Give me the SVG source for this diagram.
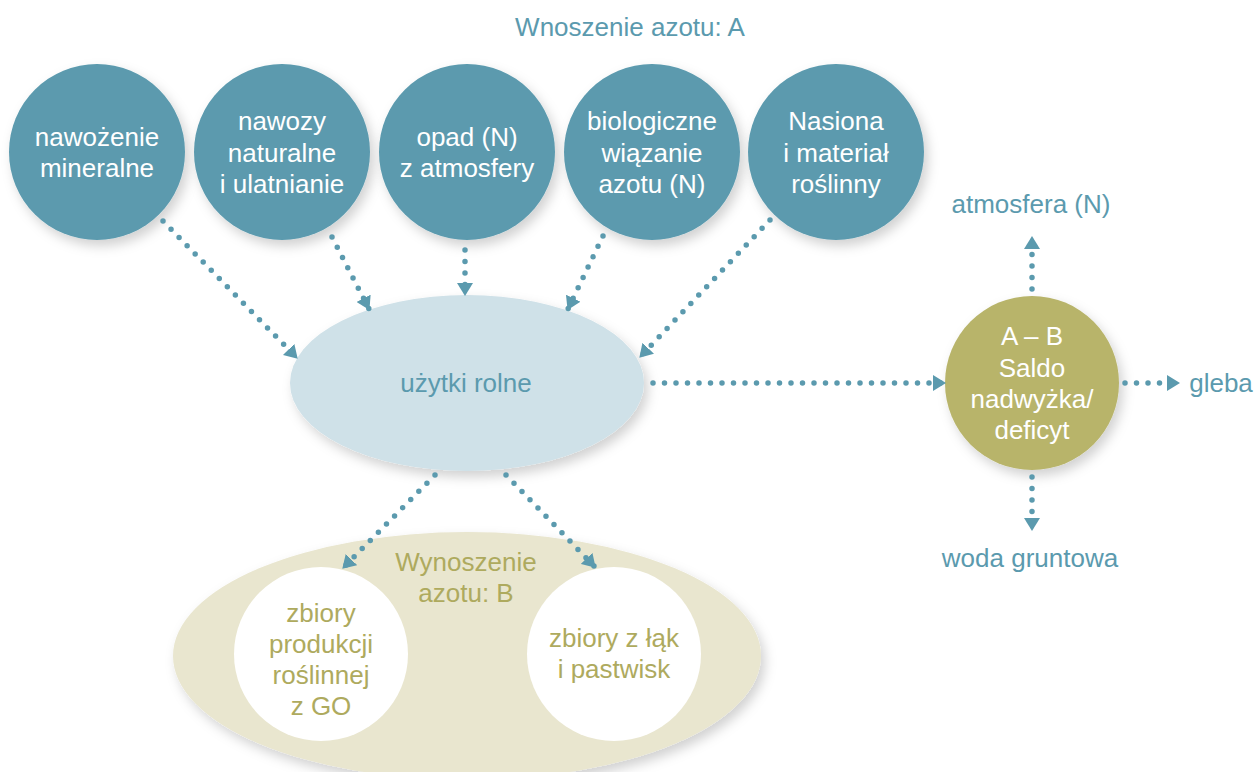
<svg xmlns="http://www.w3.org/2000/svg" width="1256" height="772" viewBox="0 0 1256 772">
<defs>
<filter id="sh" x="-20%" y="-20%" width="150%" height="150%">
<feDropShadow dx="4" dy="6" stdDeviation="6" flood-color="#000" flood-opacity="0.18"/>
</filter>
<marker id="ah" viewBox="0 0 13 16" refX="12" refY="8" markerWidth="13" markerHeight="16" markerUnits="userSpaceOnUse" orient="auto">
<path d="M0,0 L13,8 L0,16 z" fill="#5b9aae"/>
</marker>
<style>
.tn{fill:#5b9aae;filter:url(#sh)}
.t{font-family:"Liberation Sans",Arial,sans-serif;font-size:26px;text-anchor:middle}
.w{fill:#ffffff}
.b{fill:#5b9aae}
.o{fill:#aeaa5e}
.c{fill:none;stroke:#5b9aae;stroke-width:5.5;stroke-linecap:round;stroke-dasharray:0 11.5;marker-end:url(#ah)}
</style>
</defs>
<rect width="1256" height="772" fill="#ffffff"/>
<text class="t b" x="630" y="36">Wnoszenie azotu: A</text>

<g id="bottom-group">
<ellipse cx="467" cy="656" rx="294" ry="124" fill="#e9e6cf" filter="url(#sh)"/>
<text class="t o" x="466" y="571">Wynoszenie</text>
<text class="t o" x="466" y="602">azotu: B</text>
</g>
<g id="n-zbiory-go">
<circle cx="321" cy="654" r="87" fill="#ffffff"/>
<text class="t o" x="321" y="622">zbiory</text>
<text class="t o" x="321" y="653">produkcji</text>
<text class="t o" x="321" y="684">roślinnej</text>
<text class="t o" x="321" y="715">z GO</text>
</g>
<g id="n-zbiory-laki">
<circle cx="614" cy="654" r="87" fill="#ffffff"/>
<text class="t o" x="614" y="647">zbiory z łąk</text>
<text class="t o" x="614" y="678">i pastwisk</text>
</g>

<g id="n1">
<circle class="tn" cx="97" cy="152" r="88"/>
<text class="t w" x="97" y="146">nawożenie</text>
<text class="t w" x="97" y="177">mineralne</text>
</g>
<g id="n2">
<circle class="tn" cx="282" cy="152" r="88"/>
<text class="t w" x="282" y="130">nawozy</text>
<text class="t w" x="282" y="162">naturalne</text>
<text class="t w" x="282" y="193">i ulatnianie</text>
</g>
<g id="n3">
<circle class="tn" cx="467" cy="152" r="88"/>
<text class="t w" x="467" y="146">opad (N)</text>
<text class="t w" x="467" y="177">z atmosfery</text>
</g>
<g id="n4">
<circle class="tn" cx="652" cy="152" r="88"/>
<text class="t w" x="652" y="130">biologiczne</text>
<text class="t w" x="652" y="162">wiązanie</text>
<text class="t w" x="652" y="193">azotu (N)</text>
</g>
<g id="n5">
<circle class="tn" cx="836" cy="152" r="88"/>
<text class="t w" x="836" y="130">Nasiona</text>
<text class="t w" x="836" y="162">i materiał</text>
<text class="t w" x="836" y="193">roślinny</text>
</g>

<g id="n-uzytki">
<ellipse cx="467" cy="383" rx="177" ry="88" fill="#cfe1e8" filter="url(#sh)"/>
<text class="t b" x="466" y="392">użytki rolne</text>
</g>

<g id="n-saldo">
<circle cx="1032" cy="383" r="87" fill="#b8b46b" filter="url(#sh)"/>
<text class="t w" x="1032" y="345">A – B</text>
<text class="t w" x="1032" y="377">Saldo</text>
<text class="t w" x="1032" y="408">nadwyżka/</text>
<text class="t w" x="1032" y="439">deficyt</text>
</g>

<g id="labels">
<text class="t b" x="1031" y="213">atmosfera (N)</text>
<text class="t b" x="1030" y="567">woda gruntowa</text>
<text class="t b" x="1221" y="392">gleba</text>
</g>

<g id="connectors">
<path class="c" d="M163,221 L297,358"/>
<path class="c" d="M332,237 L369,309"/>
<path class="c" d="M465,250 L465,295"/>
<path class="c" d="M603,236 L568,309"/>
<path class="c" d="M770,220 L640,357"/>
<path class="c" d="M653,383 L945,383"/>
<path class="c" d="M1032,289 L1032,237"/>
<path class="c" d="M1032,477 L1032,530"/>
<path class="c" d="M1125,383 L1179,383"/>
<path class="c" d="M435,475 L343,568"/>
<path class="c" d="M506,475 L595,567"/>
</g>
</svg>
